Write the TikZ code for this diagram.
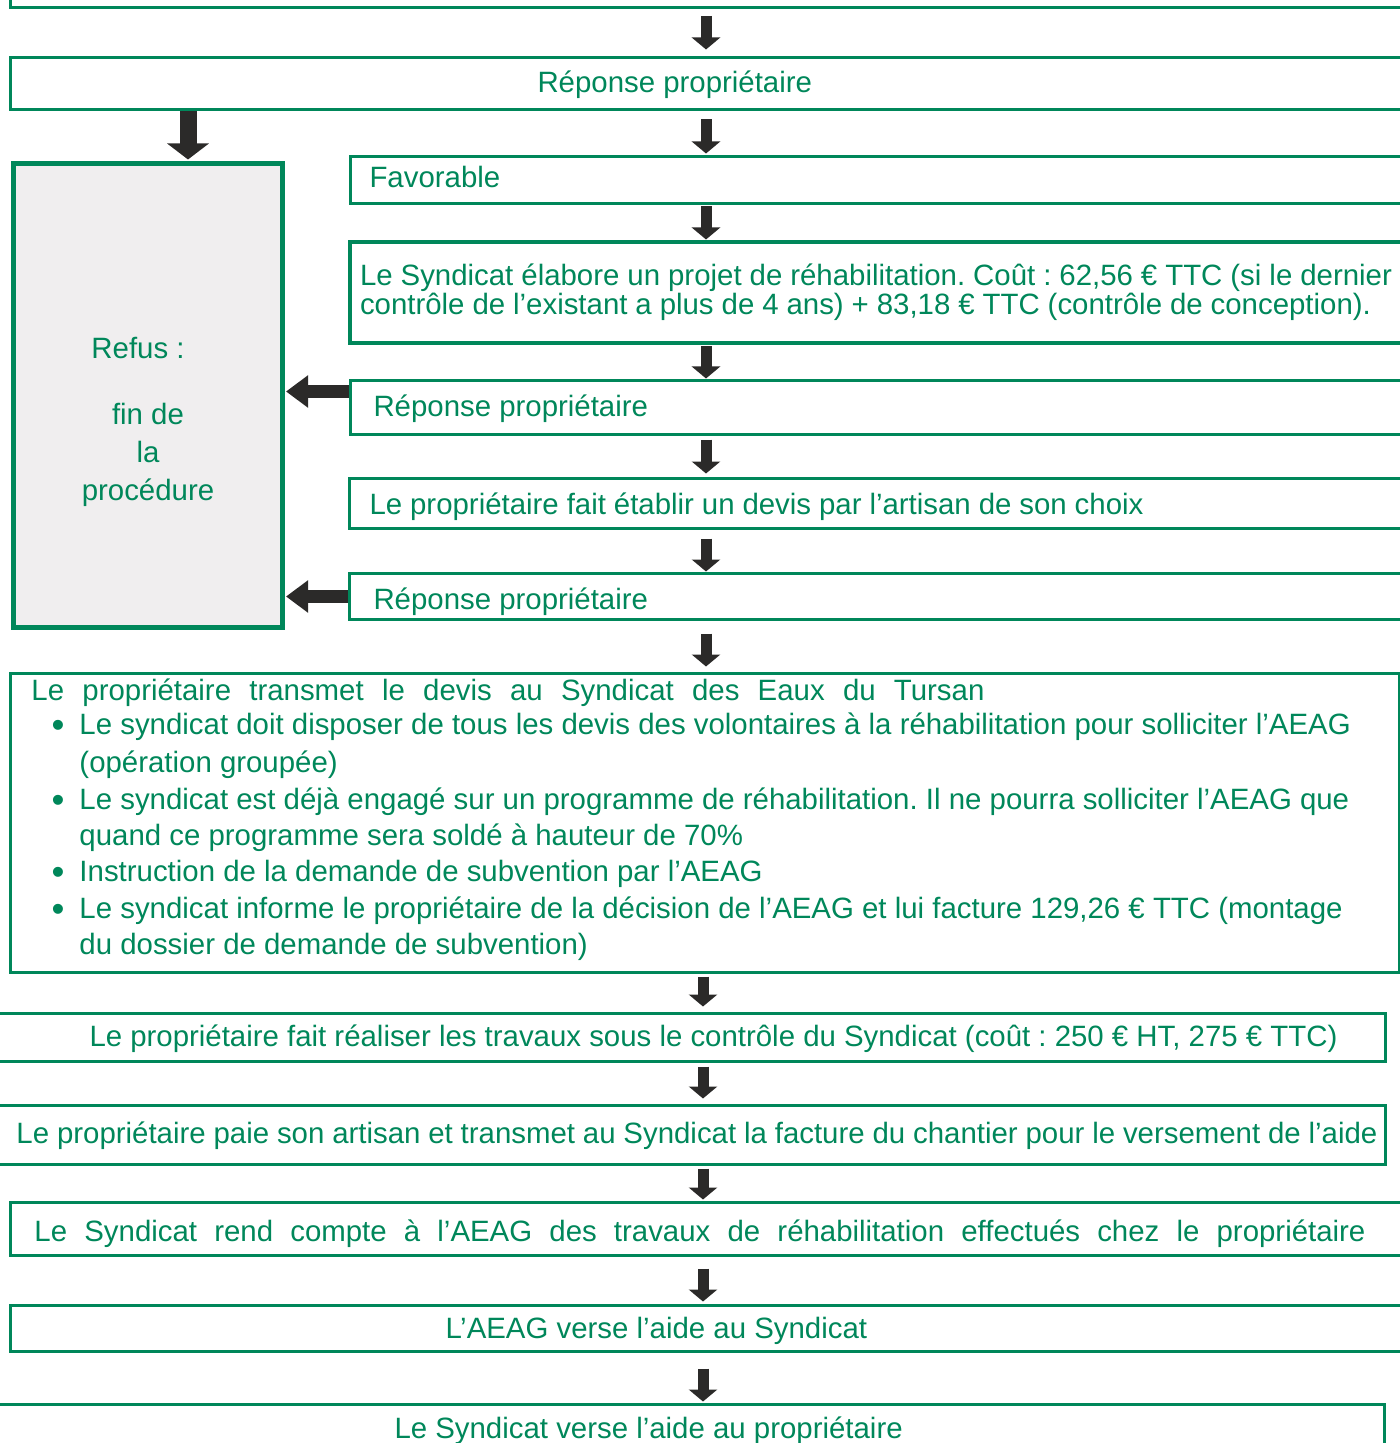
\documentclass[tikz,border=0pt]{standalone}
\usepackage{fontspec}
\setmainfont{Liberation Sans}
\usetikzlibrary{arrows.meta}
\frenchspacing

\definecolor{vert}{RGB}{0,135,90}
\definecolor{sombre}{RGB}{43,42,41}
\definecolor{grisfond}{RGB}{240,238,239}

\newcommand{\puce}{\hspace*{10pt}\makebox[14pt][l]{\raisebox{-1.5pt}{\scalebox{1.25}{•}}}}

\tikzset{
    etape/.style={rectangle, draw=vert, line width=1.5pt, anchor=north west, inner sep=0pt, text=vert, font=\fontsize{14.7pt}{18pt}\selectfont},
    ligne/.style={text height=#1, text depth=0pt},
    fleche/.style={draw=sombre, line width=5.5pt, -{Triangle[width=14pt, length=6pt]}},
    retour/.style={draw=sombre, line width=6.5pt, -{Triangle[width=15.5pt, length=11pt]}},
    grosse fleche/.style={draw=sombre, line width=8.5pt, -{Triangle[width=20.5pt, length=8pt]}},
}

\begin{document}
\begin{tikzpicture}[x=0.5pt, y=-0.5pt]
    \useasboundingbox (0,0) rectangle (1400,1443);
    \clip (0,0) rectangle (1400,1443);

    % colonne de droite
    \node (haut) [etape, minimum width=710.5pt, minimum height=33pt] at (9,-60) {};
    \node (rep0) [etape, ligne=8.9pt, minimum width=710.5pt, minimum height=26pt] at (9,56) {\makebox[710.5pt][l]{\hspace*{263.5pt}Réponse propriétaire}};
    \node (fav) [etape, ligne=7.9pt, minimum width=545pt, minimum height=23.5pt] at (349,155) {\makebox[545pt][l]{\hspace*{9.5pt}Favorable}};
    \node (projet) [etape, line width=2pt, minimum width=560pt, minimum height=50.5pt, text width=550pt, inner xsep=5pt, align=left, font=\fontsize{14.7pt}{14.5pt}\selectfont] at (348,240) {\spaceskip=0pt
        \makebox[516pt][s]{Le Syndicat élabore un projet de réhabilitation. Coût : 62,56 € TTC (si le dernier}\\
        \makebox[505.5pt][s]{contrôle de l’existant a plus de 4 ans) + 83,18 € TTC (contrôle de conception).}};
    \node (rep1) [etape, ligne=9.4pt, minimum width=545pt, minimum height=27pt] at (349,379) {\makebox[545pt][l]{\hspace*{11.5pt}Réponse propriétaire}};
    \node (devis) [etape, ligne=11.4pt, minimum width=545pt, minimum height=25pt] at (348,477) {\makebox[545pt][l]{\hspace*{10pt}\makebox[387pt][s]{Le propriétaire fait établir un devis par l’artisan de son choix}}};
    \node (rep2) [etape, ligne=13.4pt, minimum width=545pt, minimum height=23pt] at (348,572) {\makebox[545pt][l]{\hspace*{12pt}Réponse propriétaire}};

    % refus
    \node (refus) [etape, line width=2.5pt, fill=grisfond, minimum width=134.5pt, minimum height=232pt] at (11,161) {};
    \node (motif) [align=center, text=vert, font=\fontsize{14.7pt}{19pt}\selectfont, yshift=-13pt] at (refus.center) {
        Refus :\makebox[10pt]{}\\[14pt]
        fin de\\
        la\\
        procédure};

    % suite
    \node (transmet) [etape, minimum width=694.5pt, minimum height=149.5pt, text width=673.5pt, inner xsep=10.5pt, align=left, font=\fontsize{14.7pt}{18.2pt}\selectfont] at (9,672) {\spaceskip=0pt
        \makebox[476.5pt][s]{Le propriétaire transmet le devis au Syndicat des Eaux du Tursan}\\[-1.5pt]
        \puce Le syndicat doit disposer de tous les devis des volontaires à la réhabilitation pour solliciter l’AEAG\\[1pt]
        \hspace*{24pt}(opération groupée)\\
        \puce Le syndicat est déjà engagé sur un programme de réhabilitation. Il ne pourra solliciter l’AEAG que\\
        \hspace*{24pt}quand ce programme sera soldé à hauteur de 70\%\\
        \puce Instruction de la demande de subvention par l’AEAG\\
        \puce Le syndicat informe le propriétaire de la décision de l’AEAG et lui facture 129,26 € TTC (montage\\
        \hspace*{24pt}du dossier de demande de subvention)\rule[-6pt]{0pt}{0pt}};
    \node (travaux) [etape, ligne=9.4pt, minimum width=697pt, minimum height=24pt] at (-10,1012) {\makebox[697pt][l]{\hspace*{49pt}\makebox[624pt][s]{Le propriétaire fait réaliser les travaux sous le contrôle du Syndicat (coût : 250 € HT, 275 € TTC)}}};
    \node (paie) [etape, ligne=8.9pt, minimum width=697pt, minimum height=29.5pt] at (-10,1104) {\makebox[697pt][l]{\hspace*{12.5pt}\makebox[680.5pt][s]{Le propriétaire paie son artisan et transmet au Syndicat la facture du chantier pour le versement de l’aide}}};
    \node (compte) [etape, ligne=12.9pt, minimum width=710.5pt, minimum height=26.5pt] at (9,1201) {\makebox[710.5pt][l]{\hspace*{12pt}\makebox[665.5pt][s]{Le Syndicat rend compte à l’AEAG des travaux de réhabilitation effectués chez le propriétaire}}};
    \node (aeag) [etape, ligne=10.4pt, minimum width=710.5pt, minimum height=23pt] at (9,1304) {\makebox[710.5pt][l]{\hspace*{217.5pt}L’AEAG verse l’aide au Syndicat}};
    \node (verse) [etape, ligne=9.4pt, minimum width=696.5pt, minimum height=25pt] at (-10,1403) {\makebox[696.5pt][l]{\hspace*{201.5pt}Le Syndicat verse l’aide au propriétaire}};

    % fleches
    \coordinate (axe) at (706,0);
    \coordinate (axe bas) at (703,0);
    \coordinate (axe gauche) at (188,0);
    \coordinate (r1) at ([yshift=8pt]rep1.west);

    \draw [fleche, shorten <=3.5pt, shorten >=3.25pt] (axe |- haut.south) -- (axe |- rep0.north);
    \draw [fleche, shorten <=4.25pt, shorten >=0.75pt] (axe |- rep0.south) -- (axe |- fav.north);
    \draw [fleche, shorten <=0.75pt, shorten >=0.25pt] (axe |- fav.south) -- (axe |- projet.north);
    \draw [fleche, shorten <=0.75pt, shorten >=0.25pt] (axe |- projet.south) -- (axe |- rep1.north);
    \draw [fleche, shorten <=1.75pt, shorten >=1.75pt] (axe |- rep1.south) -- (axe |- devis.north);
    \draw [fleche, shorten <=4.25pt, shorten >=0.25pt] (axe |- devis.south) -- (axe |- rep2.north);
    \draw [fleche, shorten <=6.25pt, shorten >=2.75pt] (axe |- rep2.south) -- (axe |- transmet.north);
    \draw [fleche, shorten <=1.25pt, shorten >=2.75pt] (axe bas |- transmet.south) -- (axe bas |- travaux.north);
    \draw [fleche, shorten <=1.75pt, shorten >=2.75pt] (axe bas |- travaux.south) -- (axe bas |- paie.north);
    \draw [fleche, shorten <=1.25pt, shorten >=0.75pt] (axe bas |- paie.south) -- (axe bas |- compte.north);
    \draw [fleche, shorten <=5.75pt, shorten >=1.25pt] (axe bas |- compte.south) -- (axe bas |- aeag.north);
    \draw [fleche, shorten <=7.75pt, shorten >=0.75pt] (axe bas |- aeag.south) -- (axe bas |- verse.north);

    \draw [grosse fleche, shorten <=0.25pt, shorten >=0.75pt] (axe gauche |- rep0.south) -- (axe gauche |- refus.north);
    \draw [retour, shorten >=0.5pt] (r1) -- (r1 -| refus.east);
    \draw [retour, shorten >=0.5pt] (rep2.west) -- (rep2.west -| refus.east);
\end{tikzpicture}
\end{document}
